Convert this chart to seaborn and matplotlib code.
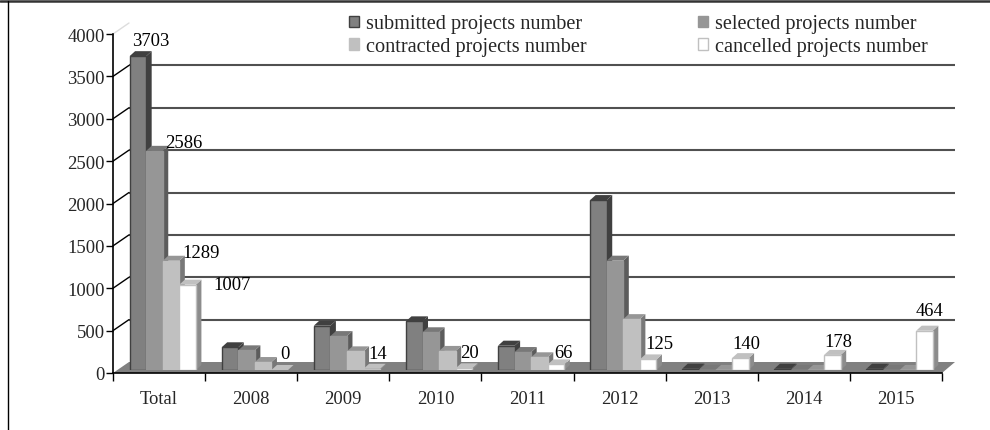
import matplotlib
matplotlib.use("Agg")
import matplotlib.pyplot as plt
import pandas as pd
import seaborn as sns
from matplotlib.lines import Line2D
from matplotlib.patches import Polygon, Rectangle
from matplotlib.transforms import IdentityTransform

categories = ["Total", "2008", "2009", "2010", "2011", "2012", "2013", "2014", "2015"]
submitted = [3703, 268, 523, 574, 287, 2005, 16, 15, 15]
selected = [2586, 232, 400, 445, 212, 1290, 3, 2, 2]
contracted = [1289, 94, 220, 225, 150, 600, 0, 0, 0]
cancelled = [1007, 0, 14, 20, 66, 125, 140, 178, 464]
series_names = ["submitted projects number", "selected projects number",
                "contracted projects number", "cancelled projects number"]
front_colors = ["#808080", "#969696", "#c0c0c0", "#ffffff"]
edge_colors = ["#404040", "#969696", "#c0c0c0", "#c0c0c0"]
side_colors = ["#404040", "#5c5c5c", "#787878", "#8c8c8c"]
top_colors = ["#404040", "#787878", "#969696", "#c0c0c0"]

# Pixel offsets of each printed value from the top centre of its bar
total_label_offsets = [(13, 16), (29, 8), (30, 8), (44, 0)]
cancelled_label_offsets = [(5, 16), (6, 15), (6, 16), (7, 12), (11, 16), (6, 15), (6, 13), (5, 20)]

W, H = 990, 431
sns.set_style("white")
plt.rcParams["font.family"] = ["Liberation Serif", "DejaVu Serif"]
FS = 13.4
LEGEND_FS = 14.6


def box(x0, x1, y_top, y_bot):
    return [x0 / W, 1 - y_bot / H, (x1 - x0) / W, (y_bot - y_top) / H]


def to_display(points):
    return [(x, H - y) for x, y in points]


fig = plt.figure(figsize=(W / 100, H / 100), dpi=100, facecolor="white")

# Back wall with the horizontal gridlines
wall = fig.add_axes(box(129, 955, 24, 363), zorder=1)
wall.set_xlim(0, 1)
wall.set_ylim(0, 4000)
wall.set_yticks(range(500, 4000, 500))
wall.set_xticks([])
wall.tick_params(length=0, labelleft=False)
wall.grid(axis="y", color="#505050", lw=1.5)
sns.despine(ax=wall, left=True, bottom=True)
wall.patch.set_visible(False)

# Front axis with ticks at the group boundaries and names at the centres
axis = fig.add_axes(box(113, 942, 35, 374), zorder=2)
axis.patch.set_visible(False)
axis.set_xlim(-0.5, 8.5)
axis.set_ylim(0, 4000)
axis.set_yticks(range(0, 4001, 500))
axis.set_xticks([i - 0.5 for i in range(10)])
axis.set_xticklabels([])
axis.set_xticks(range(9), categories, minor=True)
axis.tick_params(axis="x", which="major", length=6, width=1, color="black", direction="out", bottom=True)
axis.tick_params(axis="x", which="minor", length=0, labelsize=FS, pad=12.5, bottom=False)
axis.tick_params(axis="y", length=5, width=1, color="black", labelsize=FS, pad=1, left=True, direction="out")
sns.despine(ax=axis)
for side in ("left", "bottom"):
    axis.spines[side].set_color("black")
    axis.spines[side].set_linewidth(1.2)

# Floor of the box and the slanted links from the axis to the wall
axis.add_patch(Polygon(to_display([(113, 374), (942, 374), (955, 363), (129, 363)]),
                       closed=True, fc="#808080", ec="none", transform=IdentityTransform(),
                       clip_on=False, zorder=1))
for value in range(500, 4001, 500):
    y = 374 - value * 339 / 4000
    axis.add_line(Line2D([113, 129], [H - y, H - y + 11], transform=IdentityTransform(),
                         color="#dddddd" if value == 4000 else "black", lw=1, clip_on=False))

# Bars sit slightly inside the floor
frame = pd.DataFrame({
    "category": categories * 4,
    "series": [n for n in series_names for _ in categories],
    "value": submitted + selected + contracted + cancelled,
})
bars = fig.add_axes(box(116.7, 945.7, 32, 371), zorder=3)
bars.patch.set_visible(False)
sns.barplot(data=frame, x="category", y="value", hue="series", order=categories,
            hue_order=series_names, palette=front_colors, width=0.72, saturation=1,
            ax=bars, legend=False)
bars.set_xlim(-0.5, 8.5)
bars.set_ylim(0, 4000)
bars.axis("off")

DX, DY = 5.5, 5
for s, container in enumerate(bars.containers):
    for bar in container:
        x0, y0 = bars.transData.transform((bar.get_x(), 0))
        x1, y1 = bars.transData.transform((bar.get_x() + bar.get_width(), bar.get_height()))
        z = 2 + s * 3
        bar.set_edgecolor(edge_colors[s])
        bar.set_linewidth(1.0)
        bar.set_zorder(z + 2)
        bars.add_patch(Polygon([(x1, y0), (x1 + DX, y0 + DY), (x1 + DX, y1 + DY), (x1, y1)],
                               closed=True, fc=side_colors[s], ec="none",
                               transform=IdentityTransform(), clip_on=False, zorder=z))
        bars.add_patch(Polygon([(x0, y1), (x1, y1), (x1 + DX, y1 + DY), (x0 + DX, y1 + DY)],
                               closed=True, fc=top_colors[s], ec="none",
                               transform=IdentityTransform(), clip_on=False, zorder=z + 1))


def label_bar(s, c, offset):
    bar = bars.containers[s][c]
    bars.annotate(f"{bar.get_height():.0f}", (bar.get_x() + bar.get_width() / 2, bar.get_height()),
                  xytext=offset, textcoords="offset pixels", ha="center", va="center",
                  fontsize=FS, color="black", zorder=30, annotation_clip=False)


for s, offset in enumerate(total_label_offsets):
    label_bar(s, 0, offset)
for c, offset in enumerate(cancelled_label_offsets, start=1):
    label_bar(3, c, offset)

# Two-row legend, filled column by column
handles = [Rectangle((0, 0), 1, 1, fc=front_colors[i], ec=edge_colors[i], lw=1) for i in (0, 2, 1, 3)]
labels = [series_names[i] for i in (0, 2, 1, 3)]
fig.legend(handles, labels, ncol=2, frameon=False, loc="upper left",
           bbox_to_anchor=(349 / W, 1 - 15.5 / H), borderaxespad=0, borderpad=0,
           fontsize=LEGEND_FS, handlelength=0.5, handleheight=0.5, handletextpad=0.34,
           columnspacing=5.5, labelspacing=0.18)

# Outer frame: top and left rules only
fig.add_artist(Line2D([0, W], [H - 1.5, H - 1.5], transform=IdentityTransform(), color="#333333", lw=1.8))
fig.add_artist(Line2D([7.5, 7.5], [0, H - 1.5], transform=IdentityTransform(), color="black", lw=1))

fig.savefig("out.png", dpi=100)
